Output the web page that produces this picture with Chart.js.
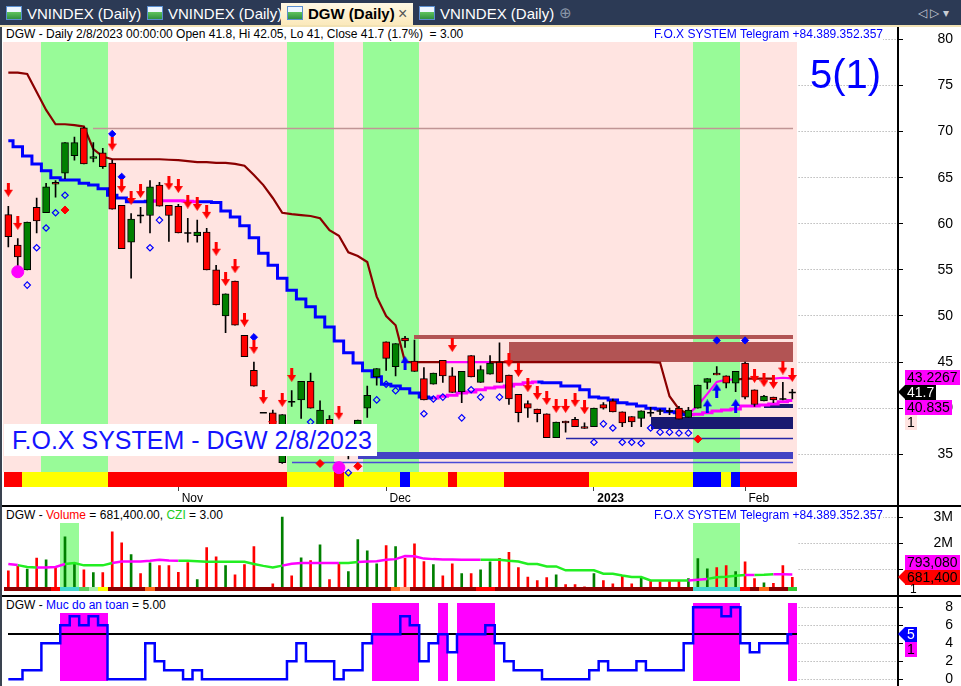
<!DOCTYPE html>
<html>
<head>
<meta charset="utf-8">
<title>DGW (Daily)</title>
<script src="https://cdn.jsdelivr.net/npm/chart.js@4.4.1/dist/chart.umd.min.js"></script>
<style>
html,body{margin:0;padding:0;}
body{width:961px;height:686px;overflow:hidden;position:relative;background:#fff;font-family:"Liberation Sans",Arial,Helvetica,sans-serif;}
.abs{position:absolute;}
#tabbar{left:0;top:0;width:961px;height:25px;background:#2c3a55;}
#tabline{left:0;top:25px;width:961px;height:2px;background:#f2e2b4;}
.tab{position:absolute;top:3px;height:22px;line-height:22px;font-size:15px;color:#fff;white-space:nowrap;}
.ico{display:inline-block;width:14px;height:12px;border:1px solid #5b8fd0;background:linear-gradient(180deg,#eef6ff 0,#eef6ff 45%,#5cc05c 45%,#2f8f3f 100%);vertical-align:-1px;margin-right:5px;}
.tab.active{background:linear-gradient(#fff8e4,#fbe9bb);color:#000;font-weight:bold;padding-left:6px;width:126px;}
.tab .x{position:absolute;left:117px;top:0;font-weight:normal;color:#555;font-size:16px;}
canvas{position:absolute;left:0;}
.sep{position:absolute;left:0;width:961px;height:2px;background:#000;}
#axisline{left:897px;top:27px;width:2px;height:659px;background:#000;}
#leftedge{left:0;top:27px;width:2px;height:659px;background:#3a4350;}
#rightedge{left:956px;top:27px;width:1px;height:480px;background:#b8bcc4;}
.hdr{position:absolute;left:6px;height:15px;line-height:15px;font-size:12px;background:#fff;white-space:pre;color:#000;padding-right:3px;}
.fox{position:absolute;right:78px;height:15px;line-height:15px;font-size:12px;background:#fff;white-space:pre;color:#0000ff;}
.lbl{position:absolute;left:905px;height:15px;line-height:15px;font-size:14px;padding:0 2px;white-space:nowrap;}
.tip{position:absolute;left:898px;width:0;height:0;border-top:7.5px solid transparent;border-bottom:7.5px solid transparent;border-right:7px solid #000;}
#big{left:810px;top:54px;font-size:40px;line-height:40px;color:#0000ff;}
#stamp{left:4px;top:424px;height:32px;line-height:32px;padding:0 5px 0 8px;font-size:25px;background:#fff;color:#1414ff;white-space:nowrap;}
</style>
</head>
<body>
<div id="tabbar" class="abs"></div>
<div id="tabline" class="abs"></div>
<div class="tab" style="left:6px"><span class="ico"></span>VNINDEX (Daily)</div>
<div class="tab" style="left:147px"><span class="ico"></span>VNINDEX (Daily)</div>
<div class="tab active" style="left:281px"><span class="ico"></span>DGW (Daily)<span class="x">×</span></div>
<div class="tab" style="left:419px"><span class="ico"></span>VNINDEX (Daily)</div>
<div class="abs" style="left:559px;top:3px;color:#8a96a8;font-size:15px;line-height:20px">⊕</div>
<div class="abs" style="left:918px;top:4px;color:#c8ccd4;font-size:12px;line-height:18px">◁ ▷ ▾</div>

<canvas id="c1" width="961" height="478" style="top:27px"></canvas>
<canvas id="c2" width="961" height="88" style="top:507px"></canvas>
<canvas id="c3" width="961" height="89" style="top:597px"></canvas>

<div class="sep" style="top:505px"></div>
<div class="sep" style="top:595px"></div>
<div id="axisline" class="abs"></div>
<div id="leftedge" class="abs"></div>

<div class="hdr" style="top:27px">DGW - Daily 2/8/2023 00:00:00 Open 41.8, Hi 42.05, Lo 41, Close 41.7 (1.7%)  = 3.00</div>
<div class="fox" style="top:27px">F.O.X SYSTEM Telegram +84.389.352.357</div>
<div id="big" class="abs">5(1)</div>
<div id="stamp" class="abs">F.O.X SYSTEM - DGW 2/8/2023</div>

<div class="hdr" style="top:508px">DGW - <span style="color:#ff0000">Volume</span> = 681,400.00, <span style="color:#22cc22">CZI</span> = 3.00</div>
<div class="fox" style="top:508px">F.O.X SYSTEM Telegram +84.389.352.357</div>
<div class="hdr" style="top:598px">DGW - <span style="color:#0000ff">Muc do an toan</span> = 5.00</div>

<script>
// ================= DATA =================
const opens = [61.0,57.7,55.0,61.8,61.2,64.5,65.5,67.4,70.4,67.1,
 67.7,66.6,62.0,58.0,60.9,60.9,64.2,62.0,61.9,59.0,
 58.7,59.1,55.0,50.0,53.8,47.9,44.1,39.5,39.5,34.1,
 40.7,40.9,42.9,36.8,38.8,37.5,35.3,36.5,40.0,43.4,
 47.2,44.5,47.6,45.1,43.2,42.6,45.2,43.5,41.8,45.7,
 42.8,43.7,45.0,43.6,41.5,40.5,39.9,39.4,36.8,38.6,
 38.8,38.0,38.0,40.4,40.8,39.6,39.1,38.9,39.5,39.7,
 39.7,40.0,39.0,40.0,42.8,43.8,43.5,42.7,44.9,42.0,
 40.8,41.2,41.0,41.8];
const highs = [61.9,58.4,60.2,62.8,64.4,64.7,68.8,69.4,70.5,68.8,
 68.2,66.9,62.0,61.1,61.8,64.7,64.5,62.0,62.1,60.6,
 60.4,59.5,55.5,52.4,53.8,47.9,45.0,39.5,39.8,39.3,
 41.9,42.9,43.8,40.8,39.2,38.0,37.0,38.7,42.4,44.3,
 47.2,47.0,47.8,47.4,44.4,43.8,45.2,44.4,44.0,45.7,
 44.6,45.7,47.1,43.6,41.5,40.8,39.9,39.4,38.5,38.6,
 39.0,38.4,40.0,40.6,41.0,39.6,39.1,39.7,40.1,39.9,
 40.0,40.2,40.1,42.5,43.2,44.5,43.5,44.0,45.0,42.0,
 41.4,41.2,42.8,42.05];
const lows = [57.5,55.2,55.0,59.0,61.2,62.9,64.9,66.9,66.5,66.7,
 66.0,61.6,57.3,54.1,60.1,59.0,61.9,58.1,59.0,58.0,
 58.0,55.0,51.2,48.2,49.0,45.6,42.4,39.5,36.0,34.0,
 40.2,38.9,40.0,36.2,36.0,35.0,34.5,36.0,39.0,42.5,
 44.1,43.5,46.6,44.0,40.9,42.6,42.8,41.7,40.6,43.4,
 42.8,43.7,42.8,40.4,38.5,39.0,38.5,36.8,36.8,37.4,
 38.0,37.8,38.0,39.9,39.6,38.0,38.0,38.0,39.1,39.3,
 39.3,38.8,39.0,40.0,42.1,43.6,42.2,41.8,41.0,40.2,
 40.8,40.6,40.9,41.0];
const closes = [58.6,56.4,60.2,60.3,64.0,64.3,68.8,68.8,66.5,67.3,
 66.2,61.6,57.3,60.5,60.9,64.0,61.9,60.9,59.0,59.0,
 59.1,55.0,51.2,52.4,49.0,45.6,42.4,39.5,36.5,39.3,
 40.7,42.9,40.0,39.8,36.3,35.5,36.8,38.7,41.4,44.3,
 45.4,47.0,47.3,44.0,40.9,43.8,43.5,41.7,44.0,43.4,
 44.2,44.9,42.8,41.0,39.5,40.0,39.4,36.8,38.5,38.4,
 38.0,37.8,40.0,40.0,39.6,38.4,38.5,39.7,39.5,39.7,
 39.7,38.8,39.8,42.5,43.2,43.6,42.7,44.0,41.2,40.4,
 41.3,40.9,41.0,41.7];
// upper trailing stop (dark red / magenta)
const upperStop = [76.4,76.4,76.25,74.3,72.35,70.8,70.8,70.7,70.55,68.1,
 67.3,67.0,67.0,67.0,67.0,67.0,67.0,66.95,66.9,66.8,
 66.7,66.7,66.6,66.6,66.5,66.3,65.3,64.2,62.8,61.2,
 61.05,60.95,60.85,60.6,59.3,58.7,56.9,56.5,55.85,52.1,
 50.0,49.0,45.0,45.0,45.0,45.0,45.0,45.0,45.0,45.0,
 45.0,45.0,45.0,45.0,45.0,45.0,45.0,45.0,45.0,45.0,
 45.0,45.0,45.0,45.0,45.0,45.0,45.0,45.0,45.0,44.95,
 41.3,39.9,39.35,40.3,41.55,42.85,43.1,43.1,43.2,43.2,
 43.2,43.2,43.3,43.2267];
// lower trailing line (blue / magenta)
const lowerTrail = [69.0,68.35,67.35,66.5,65.75,65.0,64.75,64.75,64.4,64.2,
 63.8,63.1,62.8,62.4,62.4,62.45,62.5,62.5,62.5,62.45,
 62.4,62.4,62.3,61.4,60.75,59.8,58.5,56.8,55.5,54.1,
 52.8,51.85,51.0,49.9,48.8,47.3,46.0,44.9,44.05,43.4,
 42.6,42.4,42.1,41.65,41.2,41.1,41.3,41.4,41.65,41.75,
 42.0,42.2,42.3,42.4,42.6,42.75,42.85,42.75,42.75,42.4,
 42.4,42.0,41.2,41.1,40.9,40.6,40.45,40.25,40.0,39.9,
 39.6,39.5,39.3,39.35,39.5,39.7,39.8,39.9,40.25,40.25,
 40.35,40.45,40.7,40.835];
// volume in millions of shares
const volumeM = [0.93,1.10,1.00,1.42,1.35,1.06,2.24,1.23,0.97,0.86,
 0.86,2.43,2.01,1.55,0.82,1.24,1.13,1.13,0.87,1.25,
 0.59,1.82,1.47,1.13,0.78,1.17,1.86,0.15,0.43,3.00,
 0.74,1.43,1.32,1.93,0.59,1.23,0.90,2.13,1.70,1.20,
 1.90,1.86,1.41,1.97,1.29,1.17,0.74,1.20,0.82,0.82,
 0.97,1.28,1.41,1.64,1.05,0.69,0.55,0.67,0.78,0.40,
 0.40,0.31,0.82,0.55,0.43,0.74,0.43,0.64,0.55,0.52,
 0.55,0.55,0.63,1.40,1.01,1.05,1.13,0.90,1.28,0.63,
 0.47,0.45,1.13,0.6814];
// CZI (volume average line), millions
const czi = [1.19,1.15,1.08,1.06,1.06,1.08,1.19,1.23,1.14,1.14,
 1.14,1.23,1.29,1.29,1.29,1.32,1.36,1.33,1.32,1.32,
 1.30,1.28,1.28,1.28,1.28,1.28,1.19,1.12,1.06,1.13,
 1.20,1.23,1.23,1.23,1.23,1.23,1.23,1.27,1.29,1.30,
 1.36,1.38,1.50,1.49,1.40,1.38,1.37,1.37,1.36,1.36,
 1.36,1.36,1.36,1.32,1.29,1.19,1.19,1.10,1.10,0.95,
 0.95,0.95,0.95,0.82,0.82,0.75,0.69,0.69,0.56,0.56,
 0.56,0.56,0.56,0.59,0.62,0.68,0.70,0.74,0.77,0.77,
 0.78,0.80,0.80,0.79308];
// "Muc do an toan" (safety level)
const safety = [0,0,1,1,4,4,6,7,6,7,
 6,0,0,0,0,4,2,1,1,0,
 1,0,0,0,0,0,0,0,0,0,
 2,4,2,2,2,0,1,1,4,5,
 5,5,7,6,2,4,5,3,5,5,
 5,6,4,2,1,1,1,0,0,0,
 0,0,1,2,1,1,1,2,1,1,
 1,1,4,8,8,8,7,8,4,3,
 4,4,4,5];
// trend strip under price (R red, Y yellow, B blue), one code per candle
const trendStrip = ["RR","YYYYYYYYY","RRRRRRRRRRRRRRRRRRR","YYYYY","R","YYYYYY","B","YYYY","R","YYYYY",
 "RRRRRRRRR","YYYYYYYYYYY","BBB","Y","B","RRRRRR"].join("");
// volume state strip
const volStrip = ["DDDDD","R","CC","L","P","Y","DDDD","O","DDDDDDDDDD","DDDDDDDDDD","DDDDD","O","S","DDDDDDD","RR",
 "DDDDDDDDDD","DDDDDDDDDD","D","CCCCC","R","D","O","DD","G"].join("");
const greenBandsPrice = [[4,10],[30,34],[38,43],[73,77]];
const greenBandsVol = [[6,7],[73,77]];
const magentaBandsSafety = [[6,10],[39,43],[46,46],[48,51],[73,77],[83,83]];
const upperMagenta = [[46,51],[72,77],[81,83]];
const lowerMagenta = [[15,20],[45,56],[72,83]];
const cziMagenta = [[0,1],[3,6],[11,18],[29,35],[37,50],[72,74],[78,79],[81,83]];
const monthTickIndex = [18,40,62,78];
const monthTickLabels = ["Nov","Dec","2023","Feb"];
const priceTicks = [35,40,45,50,55,60,65,70,75,80];
const volumeTicks = [1,2,3];
const safetyTicks = [0,2,4,6,8];
const safetyLevel = 5;
const sellSignals = [[0,63.7],[1,60.1],[11,68.7],[12,64.1],[13,62.8],[14,63.55],[17,64.4],[18,64.1],[19,62.4],[20,62.15],
 [21,61.3],[22,57.3],[23,54.0],[24,55.4],[25,49.6],[26,46.65],[27,41.2],[28,38.6],[29,40.9],[30,43.6],[35,39.5],[47,46.85],
 [53,45.2],[54,44.15],[55,42.5],[56,41.65],[57,41.1],[58,40.25],[59,40.25],[60,40.9],[61,40.1],
 [79,43.5],[80,43.05],[81,42.85],[82,44.4],[83,43.6]];
const buySignals = [[42,44.9],[74,40.2],[75,41.9],[77,40.25]];
const blueDots = [[11,69.75],[12,65.1],[26,47.7],[75,47.35],[78,47.35]];
const hollowDiamonds = [[2,53.35],[3,57.4],[4,59.55],[5,61.2],[6,63.1],[15,57.4],[16,60.4],[32,38.5],[36,33.0],[39,40.9],
 [40,42.6],[41,41.9],[44,39.4],[45,41.0],[46,41.2],[48,38.95],[49,42.0],[50,41.2],[52,41.2],[62,36.3],[63,38.3],[64,37.85],
 [65,36.3],[66,36.3],[67,36.2],[68,37.85],[69,37.4],[70,37.4],[71,37.3],[72,37.3]];
const redDiamonds = [[6,61.5],[33,34.0],[37,33.7],[73,36.65]];
const magentaDots = [[1,54.8],[35,33.55]];
const zoneStart = [43,53,68,80,37];
const zoneEnd = [83,83,83,83,83];
const zoneLow = [47.5,45.02,37.75,40.0,34.46];
const zoneHigh = [47.94,47.18,39.05,40.45,35.28];
const zoneKind = ["supply","supply","demand","demand","band"];
const levelStart = [9,30,59];
const levelEnd = [83,83,83];
const levelPrice = [70.4,34.15,36.77];
const levelKind = ["resist","floor","base"];

// ================= RENDERING =================
const FONT = '"Liberation Sans", Arial, Helvetica, sans-serif';
Chart.defaults.font.family = FONT;
Chart.defaults.color = '#000';
const N = closes.length, X_MIN = -0.5, X_MAX = 94.19;
const C = {green:'#008000',red:'#ff0000',pink:'#ffe4e1',band:'#98fb98',mag:'#ff00ff',blue:'#0000ff',dred:'#8b0000'};
const STRIP = {R:'#ff0000',Y:'#ffff00',B:'#0000ff'};
const VSTRIP = {D:'#8b0000',R:'#ff0000',C:'#40d8d0',L:'#5fcf5f',P:'#a8f0a8',Y:'#ffff00',O:'#ff6a1a',S:'#ffa07a',G:'#33cc33'};
const ZONE = {supply:'#b25454',demand:'#191970',band:'#4343c4'};
const LEVEL = {resist:'#c09595',floor:'#4a4ad6',base:'#2626a6'};
const idx = closes.map((_,i)=>i);
const inRanges = (a,b,r)=>r.some(([s,e])=>a>=s&&b<=e);
const series = arr=>arr.map((v,i)=>({x:i,y:v}));
const pairs = list=>list.map(([i,v])=>({x:i,y:v}));
const px = (s,v)=>Math.round(s.getPixelForValue(v));
const noPad = s=>{s.paddingTop=0;s.paddingBottom=0;s.paddingLeft=0;s.paddingRight=0;};

function arrow(color, up){
  const c = document.createElement('canvas'); c.width = 9; c.height = 14;
  const g = c.getContext('2d'); g.fillStyle = color; g.beginPath();
  if(!up){ g.moveTo(3,0); g.lineTo(6,0); g.lineTo(6,7); g.lineTo(9,7); g.lineTo(4.5,14); g.lineTo(0,7); g.lineTo(3,7); }
  else { g.moveTo(3,14); g.lineTo(6,14); g.lineTo(6,7); g.lineTo(9,7); g.lineTo(4.5,0); g.lineTo(0,7); g.lineTo(3,7); }
  g.closePath(); g.fill(); return c;
}
function yAxis(min,max,ticks,pad,fmt){
  return {position:'right',min,max,
    afterBuildTicks:s=>{s.ticks = ticks.map(v=>({value:v}));},
    afterFit:s=>{s.width = 55; noPad(s);},
    grid:{color:'#9a9a9a',lineWidth:1,drawTicks:true,tickLength:5,tickColor:'#000',tickWidth:1,tickBorderDash:[]},
    border:{display:false,dash:[1,2]},
    ticks:{autoSkip:false,crossAlign:'far',padding:pad,color:'#000',font:{size:14,family:FONT},callback:fmt}};
}
const xHidden = ()=>({type:'linear',min:X_MIN,max:X_MAX,display:false,offset:false,grid:{offset:false}});
function fillCells(ctx,x,ranges,y0,y1,color){
  ctx.fillStyle = color;
  ranges.forEach(([s,e])=>{const a=px(x,s-0.5),b=px(x,e+0.5);ctx.fillRect(a,y0,b-a,y1-y0);});
}
const baseOpts = {responsive:false,animation:false,devicePixelRatio:1,events:[],
  plugins:{legend:{display:false},tooltip:{enabled:false}}};
const layoutOf = top=>({autoPadding:false,padding:{left:3.6,right:8,top:top,bottom:0}});

// ---- price panel ----
const priceBg = {id:'priceBg', beforeDatasetsDraw(ch){
  const {ctx,chartArea:a,scales:{x,y}} = ch;
  const L = Math.floor(a.left), R = px(x,N-0.5);
  const top = a.top+14, bot = a.bottom-15;
  ctx.save();
  ctx.fillStyle='#fff'; ctx.fillRect(L,a.top,R-L,a.bottom-a.top);
  ctx.fillStyle=C.pink; ctx.fillRect(L,top,R-L,bot-top);
  fillCells(ctx,x,greenBandsPrice,top,bot,C.band);
  for(let i=0;i<N;i++){const x0=px(x,i-0.5),x1=px(x,i+0.5);ctx.fillStyle=STRIP[trendStrip[i]];ctx.fillRect(x0,bot,x1-x0,a.bottom-bot);}
  levelStart.forEach((s,k)=>{const yy=Math.round(y.getPixelForValue(levelPrice[k]))+0.5;ctx.strokeStyle=LEVEL[levelKind[k]];ctx.lineWidth=1.5;
    ctx.beginPath();ctx.moveTo(px(x,s),yy);ctx.lineTo(px(x,levelEnd[k])+1,yy);ctx.stroke();});
  zoneStart.forEach((s,k)=>{const x0=px(x,s),x1=px(x,zoneEnd[k])+1;const y0=Math.round(y.getPixelForValue(zoneHigh[k])),y1=Math.round(y.getPixelForValue(zoneLow[k]));
    ctx.fillStyle=ZONE[zoneKind[k]];ctx.fillRect(x0,y0,x1-x0,y1-y0);});
  ctx.restore();
}};
const isDoji = i=>Math.abs(closes[i]-opens[i])<0.12;
const chart1 = new Chart(document.getElementById('c1'),{
  type:'bar',
  data:{datasets:[
    {type:'line',data:pairs(sellSignals),showLine:false,pointStyle:arrow('#ff0000',false),pointRadius:6,order:0},
    {type:'line',data:pairs(buySignals),showLine:false,pointStyle:arrow('#0000ff',true),pointRadius:6,order:0},
    {type:'line',data:pairs(blueDots),showLine:false,pointStyle:'rectRot',pointRadius:3.6,pointBackgroundColor:'#0000ff',pointBorderColor:'#0000ff',pointBorderWidth:1,order:1},
    {type:'line',data:pairs(hollowDiamonds),showLine:false,pointStyle:'rectRot',pointRadius:3.2,pointBackgroundColor:'rgba(0,0,0,0)',pointBorderColor:'#0000ff',pointBorderWidth:1.2,order:1},
    {type:'line',data:pairs(redDiamonds),showLine:false,pointStyle:'rectRot',pointRadius:4,pointBackgroundColor:'#ff0000',pointBorderColor:'#ff0000',pointBorderWidth:1,order:1},
    {type:'line',data:pairs(magentaDots),showLine:false,pointStyle:'circle',pointRadius:6,pointBackgroundColor:'#ff00ff',pointBorderColor:'#ff00ff',pointBorderWidth:1,order:1},
    {type:'line',data:idx.filter(isDoji).map(i=>({x:i,y:closes[i]})),showLine:false,pointStyle:'line',pointRadius:3.5,pointBorderColor:'#000',pointBorderWidth:1.5,order:2},
    {type:'bar',data:idx.filter(i=>!isDoji(i)).map(i=>({x:i,y:[opens[i],closes[i]]})),barThickness:7,grouped:false,borderWidth:1,borderColor:'#000',borderSkipped:false,
      backgroundColor:ctx=>{const r=ctx.raw;return r&&r.y[1]>r.y[0]?C.green:C.red;},order:3},
    {type:'bar',data:idx.map(i=>({x:i,y:[lows[i],highs[i]]})),barThickness:1,grouped:false,backgroundColor:'#000',borderWidth:0,order:4},
    {type:'line',data:series(upperStop),borderColor:C.dred,borderWidth:2.2,pointRadius:0,
      segment:{borderColor:c=>inRanges(c.p0DataIndex,c.p1DataIndex,upperMagenta)?C.mag:undefined},order:5},
    {type:'line',data:series(lowerTrail),stepped:'middle',borderColor:C.blue,borderWidth:3,pointRadius:0,
      segment:{borderColor:c=>inRanges(c.p0DataIndex,c.p1DataIndex,lowerMagenta)?C.mag:undefined},order:6}
  ]},
  options:Object.assign({},baseOpts,{
    layout:layoutOf(1),
    scales:{
      x:{type:'linear',min:X_MIN,max:X_MAX,position:'bottom',offset:false,
        afterBuildTicks:s=>{s.ticks = monthTickIndex.map(v=>({value:v}));},
        afterFit:s=>{s.height = 18; noPad(s);},
        grid:{offset:false,drawOnChartArea:false,drawTicks:true,tickLength:4,tickColor:'#444',lineWidth:1},
        border:{display:false},
        ticks:{autoSkip:false,maxRotation:0,align:'start',padding:0,color:'#000',
          font:ctx=>{const k=monthTickIndex.indexOf(ctx.tick?ctx.tick.value:-1);return {family:FONT,size:12,weight:(k>=0&&/^\d+$/.test(monthTickLabels[k]))?'bold':'normal'};},
          callback:v=>{const k=monthTickIndex.indexOf(v);return k>=0?' '+monthTickLabels[k]:'';}}},
      y:yAxis(31.45,81.24,priceTicks,34.4,v=>String(v))
    }
  }),
  plugins:[priceBg]
});

// ---- volume panel ----
const volBg = {id:'volBg',
  beforeDatasetsDraw(ch){const {ctx,chartArea:a,scales:{x}}=ch;const L=Math.floor(a.left),R=px(x,N-0.5);
    ctx.save();ctx.fillStyle='#fff';ctx.fillRect(L,a.top,R-L,a.bottom-a.top);
    fillCells(ctx,x,greenBandsVol,a.top+16,a.bottom-5,C.band);ctx.restore();},
  afterDatasetsDraw(ch){const {ctx,chartArea:a,scales:{x}}=ch;const L=Math.floor(a.left),R=px(x,N-0.5);
    ctx.save();ctx.fillStyle='#fff';ctx.fillRect(L,a.bottom-4,R-L,4);
    for(let i=0;i<N;i++){const x0=px(x,i-0.5),x1=px(x,i+0.5);ctx.fillStyle=VSTRIP[volStrip[i]];ctx.fillRect(x0,a.bottom-8,x1-x0,4);}
    ctx.restore();}
};
const chart2 = new Chart(document.getElementById('c2'),{
  type:'bar',
  data:{datasets:[
    {type:'line',data:series(czi),borderColor:'#22ee22',borderWidth:2.5,pointRadius:0,
      segment:{borderColor:c=>inRanges(c.p0DataIndex,c.p1DataIndex,cziMagenta)?C.mag:undefined},order:0},
    {type:'bar',data:series(volumeM),barThickness:2,grouped:false,borderWidth:0,
      backgroundColor:idx.map(i=>closes[i]>opens[i]?C.green:C.red),order:1}
  ]},
  options:Object.assign({},baseOpts,{
    layout:layoutOf(0),
    scales:{x:xHidden(),y:yAxis(0,3.385,volumeTicks,30.6,v=>v+'M')}
  }),
  plugins:[volBg]
});

// ---- safety panel ----
const safeBg = {id:'safeBg', beforeDatasetsDraw(ch){
  const {ctx,chartArea:a,scales:{x,y}}=ch;const L=Math.floor(a.left),R=px(x,N-0.5);
  ctx.save();ctx.fillStyle='#fff';ctx.fillRect(L,a.top,R-L,a.bottom-a.top);
  fillCells(ctx,x,magentaBandsSafety,a.top+6,a.bottom-5,C.mag);
  const yy=Math.round(y.getPixelForValue(safetyLevel));
  ctx.strokeStyle='#000';ctx.lineWidth=2;ctx.beginPath();ctx.moveTo(px(x,0),yy);ctx.lineTo(R,yy);ctx.stroke();
  ctx.restore();
}};
const chart3 = new Chart(document.getElementById('c3'),{
  type:'line',
  data:{datasets:[{data:series(safety),stepped:'middle',borderColor:C.blue,borderWidth:2.5,pointRadius:0}]},
  options:Object.assign({},baseOpts,{
    layout:layoutOf(0),
    scales:{x:xHidden(),y:yAxis(-0.745,9.144,safetyTicks,42.2,v=>String(v))}
  }),
  plugins:[safeBg]
});

// ---- value labels on the right axis ----
function sideLabels(chart, top, items){
  const H = 15, y = chart.scales.y;
  const a = items.findIndex(it=>it.anchor);
  const c = items.map(it=>it.value==null?null:top+y.getPixelForValue(it.value));
  for(let k=a-1;k>=0;k--) c[k] = c[k]==null?c[k+1]-H:Math.min(c[k],c[k+1]-H);
  for(let k=a+1;k<items.length;k++) c[k] = c[k]==null?c[k-1]+(it=>it.h||H)(items[k]):Math.max(c[k],c[k-1]+H);
  items.forEach((it,k)=>{
    const d=document.createElement('div');d.className='lbl';d.textContent=it.text;
    d.style.top=(c[k]-H/2)+'px';d.style.background=it.bg||'transparent';d.style.color=it.fg||'#000';
    if(it.size) d.style.fontSize=it.size+'px';
    if(it.left) d.style.left=it.left+'px';
    document.body.appendChild(d);
    if(it.anchor){const t=document.createElement('div');t.className='tip';t.style.top=(c[k]-H/2)+'px';t.style.borderRightColor=it.bg;document.body.appendChild(t);}
  });
}
const fmtInt = v=>Math.round(v*1e6).toLocaleString('en-US');
sideLabels(chart1,27,[
  {value:upperStop[N-1],text:String(upperStop[N-1]),bg:'#ff00ff'},
  {value:closes[N-1],text:String(closes[N-1]),bg:'#000',fg:'#fff',anchor:true},
  {value:lowerTrail[N-1],text:String(lowerTrail[N-1]),bg:'#ff00ff'},
  {value:null,text:'1',bg:'#ffe4e1'}
]);
sideLabels(chart2,507,[
  {value:czi[N-1],text:fmtInt(czi[N-1]),bg:'#ff00ff'},
  {value:volumeM[N-1],text:fmtInt(volumeM[N-1]),bg:'#ff0000',anchor:true},
  {value:null,text:'1',size:12,h:12,left:908}
]);
sideLabels(chart3,597,[
  {value:safety[N-1],text:String(safety[N-1]),bg:'#0000ff',fg:'#fff',anchor:true},
  {value:null,text:'1',bg:'#ff00ff'}
]);
</script>
</body>
</html>
